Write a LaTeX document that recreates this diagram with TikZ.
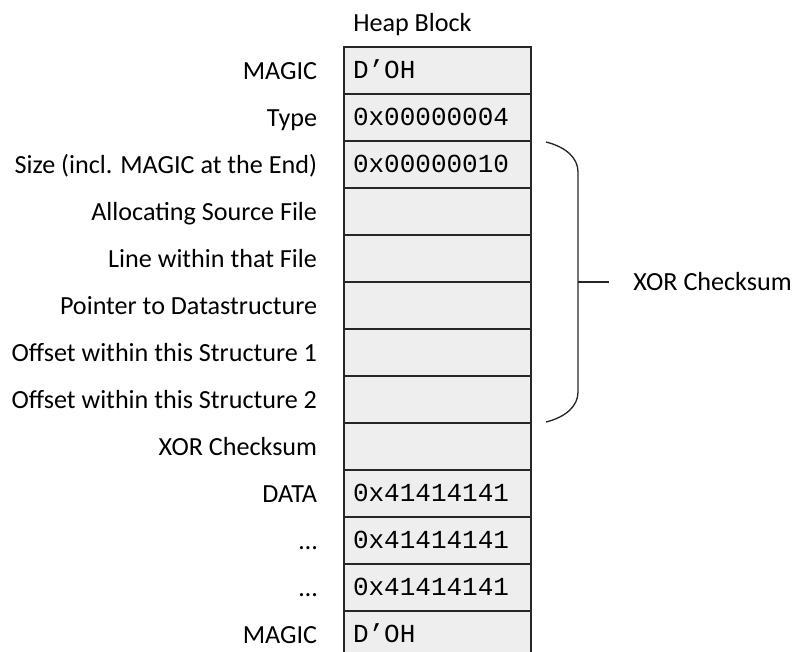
\documentclass[tikz,border=0pt]{standalone}
\usepackage{fontspec}
\setmainfont{Carlito}
\newfontfamily\cellfont{Liberation Mono}
\usetikzlibrary{positioning}
\definecolor{cellgray}{RGB}{238,238,238}
\definecolor{linegray}{RGB}{38,38,38}

\begin{document}
\begin{tikzpicture}[x=0.75pt,y=-0.75pt,
  cell/.style={draw=linegray, line width=1pt, fill=cellgray,
    minimum height=35.25pt, text width=126.75pt, inner xsep=6.75pt,
    align=left, text height=14pt, text depth=2.6pt,
    font=\cellfont\fontsize{19.5}{22}\selectfont},
  lab/.style={inner sep=0pt, text height=15pt, text depth=1.8pt,
    font=\fontsize{19.6}{22}\selectfont}]
\useasboundingbox (0,0) rectangle (795,652);
\clip (0,0) rectangle (795,652);
\node[anchor=base west, inner sep=0pt, font=\fontsize{19.6}{22}\selectfont] (title) at (353,31.5) {Heap Block};
% the heap block, one cell per row
\foreach \lab/\val [count=\i] in {MAGIC/D’OH, Type/0x00000004,
    Size (incl. MAGIC at the End)/0x00000010, Allocating Source File/{},
    Line within that File/{}, Pointer to Datastructure/{},
    Offset within this Structure 1/{}, Offset within this Structure 2/{},
    XOR Checksum/{}, DATA/0x41414141, …/0x41414141, …/0x41414141,
    MAGIC/D’OH}{
  \node[cell] (c\i) at (437.5,{70.5+47*(\i-1)}) {\val};
  \node[lab, left=19.5pt of c\i] (l\i) {\lab};
}
% brace over the checksummed fields
\draw[linegray, line width=1pt] (546,142) .. controls (566,147) and (578,158) .. (578,172)
  -- (578,392) .. controls (578,406) and (566,417) .. (546,422);
\coordinate (bmid) at (578,282);
\node[anchor=base west, inner sep=0pt, font=\fontsize{19.6}{22}\selectfont] (xor) at (633,290) {XOR Checksum};
\draw[linegray, line width=1pt] (bmid) -- ([xshift=-18pt]bmid -| xor.west);
\end{tikzpicture}
\end{document}
